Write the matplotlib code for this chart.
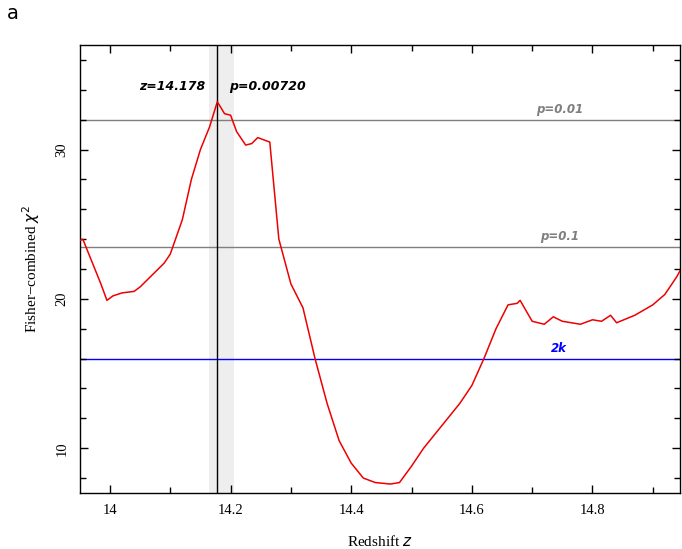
import numpy as np
import matplotlib
matplotlib.use('Agg')
from matplotlib import pyplot as plt
from matplotlib.ticker import MultipleLocator, FormatStrFormatter

z = [13.945, 13.955, 13.97, 13.985, 13.995, 14.005, 14.02, 14.04, 14.05, 14.07, 14.09,
     14.1, 14.12, 14.135, 14.15, 14.165, 14.178, 14.19, 14.2, 14.21, 14.225, 14.235,
     14.245, 14.265, 14.28, 14.3, 14.32, 14.34, 14.36, 14.38, 14.4, 14.42, 14.44,
     14.465, 14.48, 14.5, 14.52, 14.54, 14.56, 14.58, 14.6, 14.62, 14.64, 14.66,
     14.675, 14.68, 14.69, 14.7, 14.72, 14.735, 14.75, 14.78, 14.8, 14.815, 14.83,
     14.84, 14.87, 14.9, 14.92, 14.94, 14.96]
chi2 = [23.8, 24.0, 22.5, 21.0, 19.9, 20.2, 20.4, 20.5, 20.8, 21.6, 22.4,
        23.0, 25.3, 28.0, 30.0, 31.5, 33.2, 32.4, 32.3, 31.2, 30.3, 30.4,
        30.8, 30.5, 24.0, 21.0, 19.4, 16.0, 13.0, 10.5, 9.0, 8.0, 7.7,
        7.6, 7.7, 8.8, 10.0, 11.0, 12.0, 13.0, 14.2, 16.0, 18.0, 19.6,
        19.7, 19.9, 19.2, 18.5, 18.3, 18.8, 18.5, 18.3, 18.6, 18.5, 18.9,
        18.4, 18.9, 19.6, 20.3, 21.5, 23.0]

z_best = 14.178
band = (14.165, 14.205)
levels = [32.0, 23.5, 16.0]
level_labels = ['p=0.01', 'p=0.1', '2k']
level_colors = ['#7f7f7f', '#7f7f7f', '#0000ff']

fig = plt.figure(figsize=(6.82, 5.49), dpi=100)
ax = fig.add_axes([0.117, 0.102, 0.88, 0.816])

ax.axvspan(band[0], band[1], color='#eeeeee', lw=0, zorder=0)
for y, lab, c in zip(levels, level_labels, level_colors):
    ax.axhline(y, color=c, lw=1.0, zorder=1)
    ax.text(14.745, y + 0.25, lab, color=c, fontsize=8.5, fontstyle='italic',
            fontweight='bold', ha='center', va='bottom', family='DejaVu Sans')
ax.axvline(z_best, color='black', lw=1.0, zorder=2)
ax.plot(z, chi2, color='#ee0000', lw=1.1, zorder=3)

ax.text(14.158, 34.2, 'z=14.178', fontsize=9, fontstyle='italic', fontweight='bold',
        ha='right', va='center', family='DejaVu Sans')
ax.text(14.197, 34.2, 'p=0.00720', fontsize=9, fontstyle='italic', fontweight='bold',
        ha='left', va='center', family='DejaVu Sans')

ax.set_xlim(13.95, 14.945)
ax.set_ylim(7.0, 37.0)
ax.xaxis.set_major_locator(MultipleLocator(0.2))
ax.xaxis.set_minor_locator(MultipleLocator(0.1))
ax.xaxis.set_major_formatter(FormatStrFormatter('%g'))
ax.yaxis.set_major_locator(MultipleLocator(10))
ax.yaxis.set_minor_locator(MultipleLocator(2))
ax.tick_params(which='both', direction='in', top=True, right=True, width=1.0)
ax.tick_params(which='major', length=6, labelsize=10.5, pad=8)
ax.tick_params(which='minor', length=4)
for lab in ax.get_xticklabels() + ax.get_yticklabels():
    lab.set_family('Liberation Serif')
for lab in ax.get_yticklabels():
    lab.set_rotation(90)
    lab.set_va('center')
for s in ax.spines.values():
    s.set_linewidth(1.0)

ax.set_xlabel('Redshift $z$', family='Liberation Serif', fontsize=11, labelpad=12)
ax.set_ylabel('Fisher\u2212combined $\\chi^2$', family='Liberation Serif', fontsize=11, labelpad=10)
fig.text(0.01, 0.965, 'a', fontsize=14, family='DejaVu Sans')

fig.savefig('out.png', dpi=100)
